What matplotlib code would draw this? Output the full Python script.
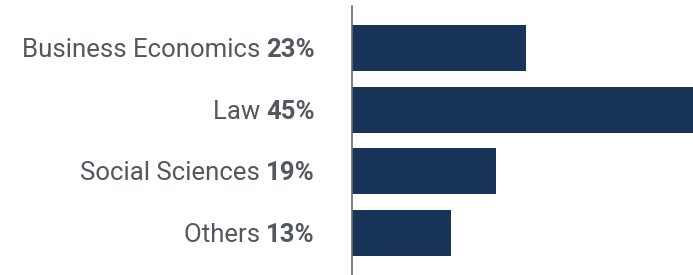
import matplotlib.pyplot as plt
from matplotlib.transforms import blended_transform_factory

categories = ["Business Economics", "Law", "Social Sciences", "Others"]
shares = [23, 45, 19, 13]

BAR_COLOR = "#183459"
TEXT_COLOR = "#53575e"

plt.rcParams["font.family"] = ["Roboto", "DejaVu Sans"]

fig = plt.figure(figsize=(6.93, 2.75), dpi=100)
ax = fig.add_axes([352 / 693, 0, 341 / 693, 269 / 275])

ypos = list(range(len(categories)))
ax.barh(ypos, shares, height=0.745, color=BAR_COLOR)
ax.set_xlim(0, 45)
ax.set_ylim(3.68, -0.68)

for side in ["top", "right", "bottom"]:
    ax.spines[side].set_visible(False)
ax.spines["left"].set_color("#6b6b6b")
ax.spines["left"].set_linewidth(1.2)
ax.set_xticks([])
ax.set_yticks([])

trans = blended_transform_factory(fig.transFigure, ax.transData)
for y, name, val in zip(ypos, categories, shares):
    # bold value first, then the name placed to its left
    bold = ax.text(315 / 693, y + 0.03, f"{val}%", transform=trans, ha="right",
                   va="center", fontsize=18.5, fontweight="bold", color=TEXT_COLOR)
    ax.annotate(name + " ", xy=(0, 0.5), xycoords=bold, ha="right", va="center",
                fontsize=18.5, color=TEXT_COLOR)

fig.savefig("out.png", dpi=100, facecolor="white")
